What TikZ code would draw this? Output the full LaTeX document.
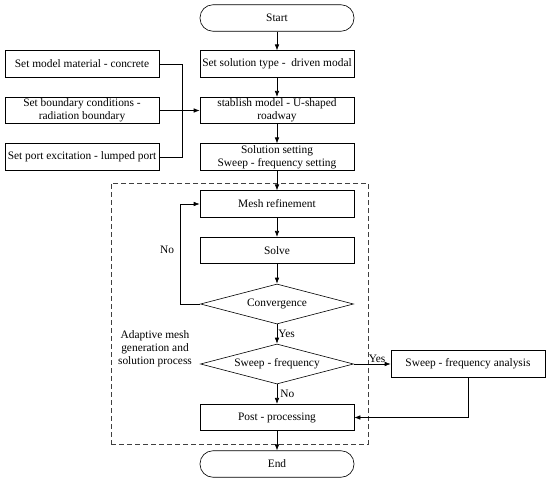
\documentclass[tikz,border=0pt]{standalone}
\usepackage{fontspec}
\setmainfont{Liberation Serif}
\usetikzlibrary{shapes.geometric,arrows.meta}
\begin{document}
\begin{tikzpicture}[x=1pt,y=-1pt,
  every node/.style={font=\fontsize{11.4}{13}\selectfont},
  box/.style={draw,line width=0.6pt,minimum width=154pt,minimum height=26.5pt,inner sep=1pt,align=center},
  term/.style={box,rounded corners=13pt},
  dec/.style={draw,line width=0.6pt,diamond,aspect=3.8,minimum width=153pt,minimum height=40pt,inner sep=0pt},
  lbl/.style={inner sep=1pt},
  conn/.style={line width=0.6pt},
  arr/.style={conn,-{Latex[length=6pt,width=4.5pt]}}]
\useasboundingbox (0,0) rectangle (550,482);
\node[term] (start) at (277,18) {Start};
\node[box] (type) at (277,64) {Set solution type -\ \ driven modal};
\node[box] (model) at (277,110.5) {stablish model - U-shaped\\roadway};
\node[box] (setting) at (277,157) {Solution setting\\Sweep - frequency setting};
\node[box] (mat) at (82,64) {Set model material - concrete};
\node[box] (bnd) at (82,110.5) {Set boundary conditions -\\radiation boundary};
\node[box] (port) at (82,157) {Set port excitation - lumped port};
\node[draw=black!75,dash pattern=on 5pt off 3pt,line width=0.6pt,minimum width=257pt,minimum height=261pt,inner sep=0pt] (frame) at (239.5,313.5) {};
\node[box] (mesh) at (277,204) {Mesh refinement};
\node[box] (solve) at (277,250.5) {Solve};
\node[dec] (conv) at (277,304) {Convergence};
\node[dec] (sweep) at (277,364) {Sweep - frequency};
\node[box] (post) at (277,417.5) {Post - processing};
\node[term] (end) at (277,464) {End};
\node[box] (ana) at (468,364) {Sweep - frequency analysis};
\node[lbl,align=center] (adapt) at (155,348.5) {Adaptive mesh\\generation and\\solution process};
\coordinate (jx) at (182,110.5);
\draw[conn] (mat.east) -| (jx);
\draw[conn] (port.east) -| (jx);
\draw[arr] (bnd.east) -- (model.west);
\draw[arr] (start) -- (type);
\draw[arr] (type) -- (model);
\draw[arr] (model) -- (setting);
\draw[arr] (setting) -- (mesh);
\draw[arr] (mesh) -- (solve);
\draw[arr] (solve) -- (conv);
\coordinate (fb) at (180,304);
\draw[arr] (conv.west) -- (fb) |- (mesh.west);
\node[lbl] (no1) at (167,250) {No};
\draw[arr] (conv.south) -- (sweep.north) node[midway,right,lbl] (yes1) {Yes};
\draw[arr] (sweep.east) -- (ana.west) node[pos=0.63,above,lbl] (yes2) {Yes};
\draw[arr] (sweep.south) -- (post.north) node[midway,right,inner sep=3pt] (no2) {No};
\draw[arr] (ana.south) |- (post.east);
\draw[arr] (post) -- (end);
\end{tikzpicture}
\end{document}
